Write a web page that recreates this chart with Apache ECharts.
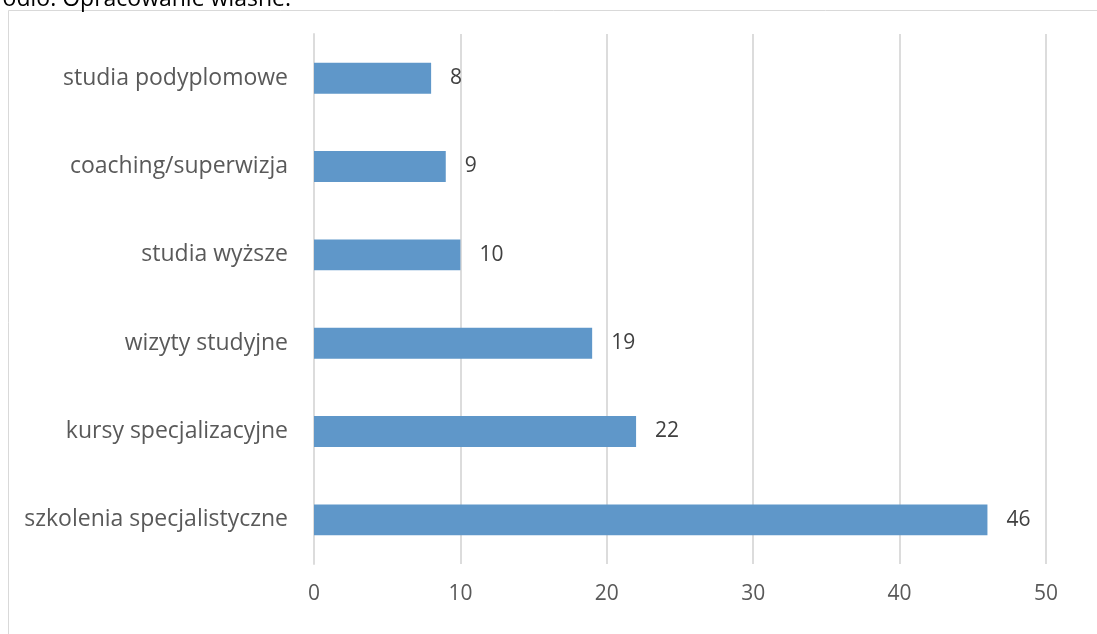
<!DOCTYPE html>
<html><head><meta charset="utf-8">
<script src="https://cdn.jsdelivr.net/npm/echarts@6/dist/echarts.min.js"></script>
<style>html,body{margin:0;padding:0;background:#fff}#c{width:1097px;height:634px}</style>
</head><body><div id="c"></div>
<script>
const categories = ['szkolenia specjalistyczne','kursy specjalizacyjne','wizyty studyjne','studia wyższe','coaching/superwizja','studia podyplomowe'];
const values = [46, 22, 19, 10, 9, 8];
const xTicks = [0, 10, 20, 30, 40, 50];
const sourceText = 'Źródło: Opracowanie własne.';
const FONT = '"Open Sans", sans-serif';
const chart = echarts.init(document.getElementById('c'), null, {renderer:'canvas'});
chart.setOption({
  animation:false,
  backgroundColor:'#fff',
  graphic:[
    {type:'rect', shape:{x:8.5,y:10.5,width:1200,height:700}, style:{fill:'none',stroke:'#d9d9d9',lineWidth:1}, silent:true},
    {type:'text', x:291, y:11, style:{text:sourceText, font:'23px '+FONT, fill:'#000', align:'right', verticalAlign:'bottom'}}
  ],
  grid:{left:314, right:1097-1046, top:34, bottom:634-564, containLabel:false},
  xAxis:{type:'value', min:xTicks[0], max:xTicks[xTicks.length-1], interval:10,
    axisLine:{show:false}, axisTick:{show:false},
    splitLine:{show:true, lineStyle:{color:'#dcdcdc', width:2}},
    axisLabel:{color:'#595959', fontSize:21, fontFamily:FONT, margin:20}},
  yAxis:{type:'category', data:categories,
    axisLine:{show:true, lineStyle:{color:'#dcdcdc', width:2}}, axisTick:{show:false},
    axisLabel:{color:'#595959', fontSize:23, fontFamily:FONT, margin:26}},
  series:[{type:'bar', data:values, barWidth:'35%',
    itemStyle:{color:'#5f97c9'},
    label:{show:true, position:'right', distance:19, color:'#404040', fontSize:21, fontFamily:FONT}}]
});
</script></body></html>
